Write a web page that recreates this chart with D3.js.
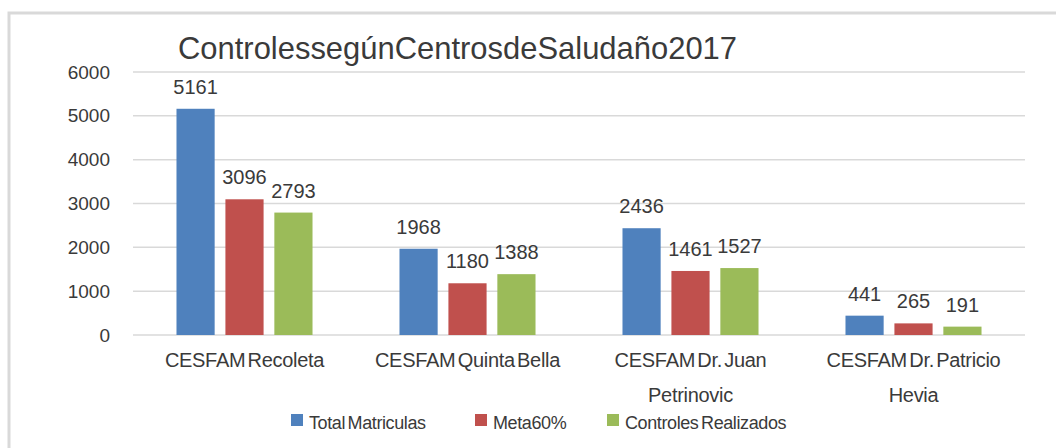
<!DOCTYPE html>
<html>
<head>
<meta charset="utf-8">
<script src="https://cdn.jsdelivr.net/npm/d3@7"></script>
<style>
  html, body { margin: 0; padding: 0; background: #fff; }
  text { fill: #3a3a3a; font-family: 'Liberation Sans', Arial, sans-serif; }
</style>
</head>
<body>
<div id="container"></div>
<script>
// data
const centros = [
  ["CESFAM Recoleta"],
  ["CESFAM Quinta Bella"],
  ["CESFAM Dr. Juan", "Petrinovic"],
  ["CESFAM Dr. Patricio", "Hevia"]
];
const series = ["Total Matriculas", "Meta60%", "Controles Realizados"];
const totalMatriculas = [5161, 1968, 2436, 441];
const meta60 = [3096, 1180, 1461, 265];
const controlesRealizados = [2793, 1388, 1527, 191];
const yTicks = [0, 1000, 2000, 3000, 4000, 5000, 6000];
const title = "ControlessegúnCentrosdeSaludaño2017";

const colors = ["#4f81bd", "#c0504d", "#9bbb59"];

const width = 1056;
const height = 448;
const plotLeft = 133;
const plotRight = 1025;
const plotTop = 72;
const plotBottom = 335;

const values = [totalMatriculas, meta60, controlesRealizados];
const rows = centros.map((c, i) => ({
  key: c.join(" "),
  lines: c,
  vals: series.map((s, j) => ({ s, v: values[j][i] }))
}));

const x0 = d3.scaleBand()
  .domain(rows.map(d => d.key))
  .range([plotLeft, plotRight])
  .paddingInner(0.39)
  .paddingOuter(0.195);

const x1 = d3.scaleBand()
  .domain(series)
  .range([0, x0.bandwidth()])
  .paddingInner(0.22);

const y = d3.scaleLinear()
  .domain([0, 6000])
  .range([plotBottom, plotTop]);

const color = d3.scaleOrdinal().domain(series).range(colors);

const svg = d3.create("svg")
  .attr("width", width)
  .attr("height", height)
  .attr("viewBox", [0, 0, width, height]);

// outer frame
svg.append("rect")
  .attr("x", 9)
  .attr("y", 13)
  .attr("width", width + 10)
  .attr("height", height + 10)
  .attr("fill", "none")
  .attr("stroke", "#d9d9d9")
  .attr("stroke-width", 3);

// title
svg.append("text")
  .attr("x", 178)
  .attr("y", 59)
  .attr("textLength", 559)
  .attr("lengthAdjust", "spacingAndGlyphs")
  .style("font-size", "32px")
  .text(title);

// grid
svg.append("g")
  .selectAll("line")
  .data(yTicks)
  .join("line")
  .attr("x1", plotLeft)
  .attr("x2", plotRight)
  .attr("y1", d => y(d))
  .attr("y2", d => y(d))
  .attr("stroke", "#d9d9d9")
  .attr("stroke-width", 1.5);

// y axis labels
const yAxis = svg.append("g")
  .attr("transform", `translate(${plotLeft - 23},0)`)
  .call(d3.axisLeft(y).tickValues(yTicks).tickSize(0).tickPadding(0).tickFormat(d3.format("d")));
yAxis.select(".domain").remove();
yAxis.selectAll("text")
  .style("font-family", "'Liberation Sans', Arial, sans-serif")
  .style("font-size", "19px")
  .attr("fill", "#3a3a3a");

// bars
const group = svg.append("g")
  .selectAll("g")
  .data(rows)
  .join("g")
  .attr("transform", d => `translate(${x0(d.key)},0)`);

group.selectAll("rect")
  .data(d => d.vals)
  .join("rect")
  .attr("x", d => x1(d.s))
  .attr("y", d => y(d.v))
  .attr("width", x1.bandwidth())
  .attr("height", d => y(0) - y(d.v))
  .attr("fill", d => color(d.s));

group.selectAll("text.val")
  .data(d => d.vals)
  .join("text")
  .attr("class", "val")
  .attr("x", d => x1(d.s) + x1.bandwidth() / 2)
  .attr("y", d => y(d.v) - 15)
  .attr("text-anchor", "middle")
  .style("font-size", "20px")
  .text(d => d.v);

// category labels
svg.append("g")
  .selectAll("text")
  .data(rows.flatMap(d => d.lines.map((t, i) => ({ key: d.key, t, i }))))
  .join("text")
  .attr("x", d => x0(d.key) + x0.bandwidth() / 2)
  .attr("y", d => 367 + d.i * 35)
  .attr("text-anchor", "middle")
  .style("font-size", "20px")
  .style("word-spacing", "-3px")
  .style("letter-spacing", "-0.3px")
  .text(d => d.t);

// legend
const legendX = [291, 475, 607];
const legend = svg.append("g")
  .selectAll("g")
  .data(series)
  .join("g")
  .attr("transform", (d, i) => `translate(${legendX[i]},414)`);
legend.append("rect")
  .attr("width", 12)
  .attr("height", 12)
  .attr("fill", d => color(d));
legend.append("text")
  .attr("x", 18)
  .attr("y", 15)
  .style("font-size", "18px")
  .style("word-spacing", "-2px")
  .style("letter-spacing", "-0.4px")
  .text(d => d);

d3.select("#container").append(() => svg.node());
</script>
</body>
</html>
